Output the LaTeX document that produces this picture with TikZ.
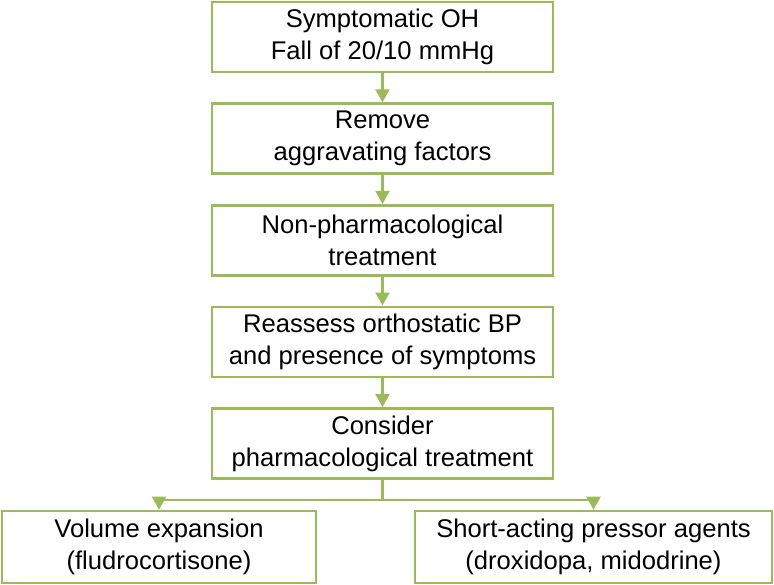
\documentclass[tikz,border=0pt]{standalone}
\usepackage{fontspec}
\setmainfont{Liberation Sans}
\usetikzlibrary{positioning,arrows.meta}
\definecolor{verde}{HTML}{9BBB59}
\definecolor{tinta}{HTML}{000000}

\begin{document}
\begin{tikzpicture}[
  font=\fontsize{12.8}{16}\selectfont,
  stepbox/.style={draw=verde, line width=1.3pt, align=center, minimum height=35pt, minimum width=170.5pt, inner sep=2pt, text=tinta},
  conn/.style={-{Triangle[length=6.5pt, width=7pt]}, line width=1.1pt, draw=verde},
  node distance=14.5pt]
\useasboundingbox (0,0) rectangle (387pt,-292pt);
% ---- coluna central
\node[stepbox] (oh) at (191.25pt,-18.5pt) {Symptomatic OH\\Fall of 20/10 mmHg};
\node[stepbox, below=of oh] (remove) {Remove\\aggravating factors};
\node[stepbox, below=of remove] (nonpharm) {Non-pharmacological\\treatment};
\node[stepbox, below=of nonpharm] (reassess) {Reassess orthostatic BP\\and presence of symptoms};
\node[stepbox, below=of reassess] (consider) {Consider\\pharmacological treatment};
% ---- opcoes
\node[stepbox, minimum width=157pt, minimum height=36pt] (volume) at (79.5pt,-273.5pt) {Volume expansion\\(fludrocortisone)};
\node[stepbox, minimum width=178.5pt, minimum height=36pt] (pressor) at (296.75pt,-273.5pt) {Short-acting pressor agents\\(droxidopa, midodrine)};
\coordinate[below=10pt of consider.south] (ramo);
\draw[conn] (oh) -- (remove);
\draw[conn] (remove) -- (nonpharm);
\draw[conn] (nonpharm) -- (reassess);
\draw[conn] (reassess) -- (consider);
\draw[line width=1.1pt, draw=verde] (consider.south) -- (ramo);
\draw[conn] (ramo) -| (volume.north);
\draw[conn] (ramo) -| (pressor.north);
\end{tikzpicture}
\end{document}
